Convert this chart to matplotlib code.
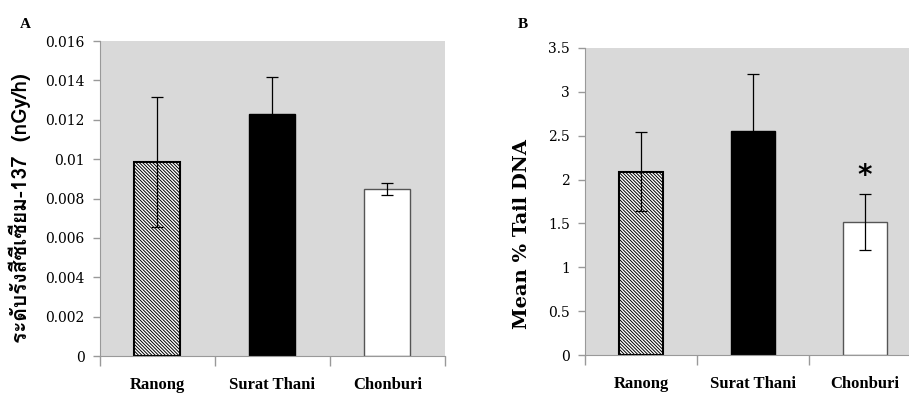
import matplotlib
matplotlib.use("Agg")
import matplotlib.pyplot as plt
from matplotlib import font_manager
from matplotlib.ft2font import FT2Font

# data
sites = ["Ranong", "Surat Thani", "Chonburi"]
dose = [0.00987, 0.01228, 0.00847]
dose_err = [0.0033, 0.0019, 0.0003]
tail = [2.09, 2.555, 1.52]
tail_err = [0.45, 0.65, 0.32]
dose_ticks = [0, 0.002, 0.004, 0.006, 0.008, 0.01, 0.012, 0.014, 0.016]
dose_tick_labels = ["0", "0.002", "0.004", "0.006", "0.008", "0.01", "0.012", "0.014", "0.016"]
tail_ticks = [0, 0.5, 1, 1.5, 2, 2.5, 3, 3.5]
tail_tick_labels = ["0", "0.5", "1", "1.5", "2", "2.5", "3", "3.5"]


def find_thai_font():
    for f in font_manager.fontManager.ttflist:
        try:
            if ord("ร") in FT2Font(f.fname).get_charmap():
                return f.name
        except Exception:
            pass
    return "DejaVu Sans"


thai = find_thai_font()
serif = ["DejaVu Serif", "Liberation Serif"]
bold_serif = "Liberation Serif"
plt.rcParams["hatch.linewidth"] = 0.7

fig = plt.figure(figsize=(9.09, 3.94), dpi=100)
axA = fig.add_axes([0.110, 0.0964, 0.3795, 0.7995])
axB = fig.add_axes([0.6436, 0.0982, 0.3696, 0.7807])

styles = [
    dict(facecolor="white", edgecolor="black", hatch="\\" * 10, linewidth=1.5),
    dict(facecolor="black", edgecolor="black", linewidth=1),
    dict(facecolor="white", edgecolor="#555555", linewidth=1),
]


def draw(ax, vals, errs, ticks, tick_labels, ymax):
    ax.set_facecolor("#d9d9d9")
    for i, (v, e) in enumerate(zip(vals, errs)):
        ax.bar(i, v, width=0.4, zorder=2, **styles[i])
        ax.errorbar(i, v, yerr=e, color="black", linewidth=0.9, capsize=4,
                    capthick=0.9, zorder=3)
    ax.set_xlim(-0.5, 2.5)
    ax.set_ylim(0, ymax)
    ax.set_yticks(ticks)
    ax.set_yticklabels(tick_labels, family=serif, fontsize=10)
    ax.set_xticks([0, 1, 2])
    ax.set_xticklabels(sites, family=bold_serif, fontweight="bold", fontsize=12)
    ax.set_xticks([-0.5, 0.5, 1.5, 2.5], minor=True)
    ax.tick_params(axis="x", which="major", length=0, pad=15)
    ax.tick_params(axis="x", which="minor", length=7, color="#999999", width=1)
    ax.tick_params(axis="y", length=5, color="#999999", width=1, pad=6)
    for s in ["top", "right"]:
        ax.spines[s].set_visible(False)
    for s in ["left", "bottom"]:
        ax.spines[s].set_color("#999999")


draw(axA, dose, dose_err, dose_ticks, dose_tick_labels, 0.016)
draw(axB, tail, tail_err, tail_ticks, tail_tick_labels, 3.5)

axA.set_ylabel("ระดับรังสีซีเซียม-137  (nGy/h)", family=[thai, "DejaVu Serif"],
               fontweight="bold", fontsize=15, va="center")
axA.yaxis.set_label_coords(-0.232, 0.47)
axB.set_ylabel("Mean % Tail DNA", family="DejaVu Serif", fontweight="bold",
               fontsize=14, va="center")
axB.yaxis.set_label_coords(-0.1875, 0.394)

axB.text(2, tail[2] + tail_err[2] + 0.2, "*", ha="center", va="center",
         fontsize=20, fontweight="bold", family="DejaVu Sans")

fig.text(25 / 909, 1 - 25 / 394, "A", family=bold_serif, fontweight="bold",
         fontsize=11, ha="center", va="center")
fig.text(523 / 909, 1 - 25 / 394, "B", family=bold_serif, fontweight="bold",
         fontsize=11, ha="center", va="center")

fig.savefig("out.png", dpi=100)
